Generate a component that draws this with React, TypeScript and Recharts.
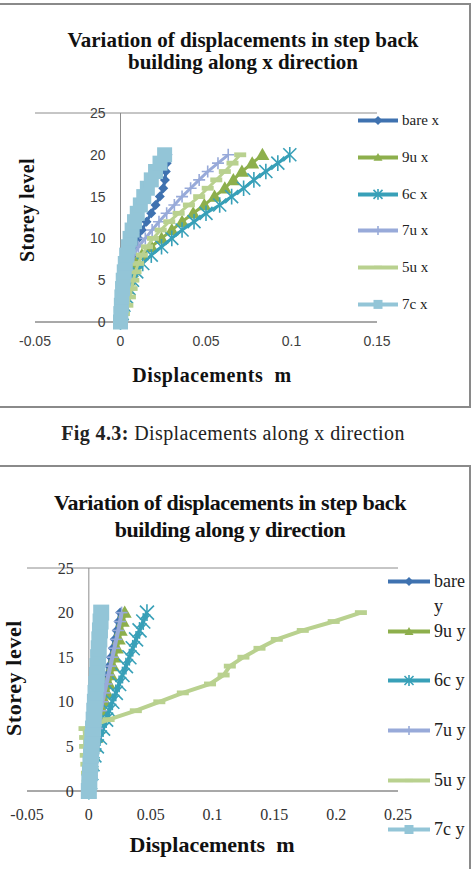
import React from 'react';
import {
  ScatterChart,
  Scatter,
  XAxis,
  YAxis,
  CartesianGrid,
  ReferenceLine,
  ReferenceDot,
  Legend,
} from 'recharts';

// ---------------- DATA ----------------
const storeyLevels = [0, 1, 2, 3, 4, 5, 6, 7, 8, 9, 10, 11, 12, 13, 14, 15, 16, 17, 18, 19, 20];

// Chart 1: displacements along x direction (m)
const bareX = [0, 0.0005, 0.001, 0.0017, 0.0025, 0.0035, 0.0046, 0.0058, 0.0072, 0.0088, 0.0105, 0.0125, 0.0152, 0.018, 0.0205, 0.023, 0.025, 0.026, 0.0265, 0.027, 0.0275];
const u9X = [0, 0.0006, 0.0014, 0.0024, 0.0036, 0.005, 0.0067, 0.0088, 0.0125, 0.018, 0.024, 0.03, 0.036, 0.0425, 0.049, 0.055, 0.061, 0.066, 0.071, 0.077, 0.083];
const c6X = [0, 0.001, 0.002, 0.0035, 0.005, 0.007, 0.0095, 0.013, 0.018, 0.024, 0.03, 0.036, 0.043, 0.05, 0.058, 0.065, 0.072, 0.078, 0.085, 0.092, 0.099];
const u7X = [0, 0.0005, 0.001, 0.0018, 0.0027, 0.0037, 0.0048, 0.006, 0.0078, 0.0105, 0.0145, 0.0185, 0.0225, 0.027, 0.0315, 0.036, 0.041, 0.046, 0.051, 0.057, 0.063];
const u5X = [0, 0.002, 0.004, 0.0055, 0.0065, 0.0075, 0.0088, 0.0103, 0.0125, 0.0155, 0.019, 0.0235, 0.0285, 0.034, 0.04, 0.046, 0.051, 0.056, 0.061, 0.0655, 0.07];
const c7X = [0, 0.0002, 0.0005, 0.0008, 0.0012, 0.0016, 0.0022, 0.0028, 0.0036, 0.0045, 0.0056, 0.0068, 0.0082, 0.0098, 0.0116, 0.0136, 0.0157, 0.018, 0.0205, 0.0231, 0.0258];

// Chart 2: displacements along y direction (m)
const bareY = [0, 0.0005, 0.0011, 0.0018, 0.0026, 0.0035, 0.0046, 0.0059, 0.0072, 0.0086, 0.0101, 0.0116, 0.0132, 0.0147, 0.0163, 0.0178, 0.0194, 0.0209, 0.0225, 0.024, 0.0254];
const u9Y = [0, 0.0007, 0.0015, 0.0025, 0.0035, 0.0048, 0.0062, 0.0078, 0.0095, 0.0112, 0.013, 0.0146, 0.0162, 0.0178, 0.0194, 0.021, 0.0226, 0.0242, 0.0258, 0.0274, 0.029];
const c6Y = [0, 0.001, 0.002, 0.003, 0.0045, 0.0065, 0.009, 0.0115, 0.014, 0.0165, 0.019, 0.0218, 0.0245, 0.0272, 0.03, 0.0328, 0.0355, 0.0382, 0.041, 0.044, 0.047];
const u7Y = [0, 0.0006, 0.0013, 0.0021, 0.003, 0.004, 0.0052, 0.0066, 0.008, 0.0095, 0.011, 0.0126, 0.0142, 0.0158, 0.0174, 0.019, 0.0206, 0.0222, 0.0238, 0.0252, 0.0265];
const u5Y = [0, -0.001, -0.0015, -0.002, -0.0025, -0.003, -0.003, -0.0035, 0.016, 0.038, 0.057, 0.076, 0.098, 0.109, 0.114, 0.125, 0.138, 0.152, 0.173, 0.198, 0.22];
const c7Y = [0, 0.0004, 0.0009, 0.0013, 0.0018, 0.0023, 0.0028, 0.0034, 0.0039, 0.0044, 0.0049, 0.0054, 0.006, 0.0065, 0.007, 0.0075, 0.008, 0.0085, 0.009, 0.0095, 0.01];

const seriesNamesX = ['bare x', '9u x', '6c x', '7u x', '5u x', '7c x'];
const seriesNamesY = ['bare y', '9u y', '6c y', '7u y', '5u y', '7c y'];

const yTicks = [0, 5, 10, 15, 20, 25];
const xTicks1 = [-0.05, 0, 0.05, 0.1, 0.15];
const xTicks2 = [-0.05, 0, 0.05, 0.1, 0.15, 0.2, 0.25];

const title1 = 'Variation of displacements in step back building along x direction';
const title2 = 'Variation of displacements in step back building along y direction';
const xTitle = 'Displacements  m';
const yTitle = 'Storey level';
const captionBold = 'Fig 4.3:';
const captionRest = ' Displacements along x direction';

// ---------------- STYLE ----------------
const COLORS = ['#3F72B0', '#8DAF4C', '#38A0B8', '#98AAD9', '#B9D18F', '#93C5D7'];
type Kind = 'diamond' | 'triangle' | 'star' | 'plus' | 'dash' | 'square';
const KINDS: Kind[] = ['diamond', 'triangle', 'star', 'plus', 'dash', 'square'];
const GRID = '#8c8c8c';
const SERIF = '"Liberation Serif", "Times New Roman", serif';
const SANS = '"Liberation Sans", Arial, sans-serif';

function Marker({ kind, cx, cy, color, s }: { kind: Kind; cx: number; cy: number; color: string; s: number }) {
  if (cx == null || cy == null || isNaN(cx) || isNaN(cy)) return null;
  switch (kind) {
    case 'diamond':
      return <polygon points={`${cx},${cy - s} ${cx + s},${cy} ${cx},${cy + s} ${cx - s},${cy}`} fill={color} />;
    case 'triangle':
      return <polygon points={`${cx},${cy - s} ${cx + s},${cy + s * 0.75} ${cx - s},${cy + s * 0.75}`} fill={color} />;
    case 'square':
      return <rect x={cx - s} y={cy - s} width={2 * s} height={2 * s} fill={color} />;
    case 'dash':
      return <rect x={cx - s} y={cy - s * 0.4} width={2 * s} height={s * 0.8} fill={color} />;
    case 'plus':
      return (
        <g stroke={color} strokeWidth={1.6}>
          <line x1={cx - s} y1={cy} x2={cx + s} y2={cy} />
          <line x1={cx} y1={cy - s} x2={cx} y2={cy + s} />
        </g>
      );
    case 'star':
      return (
        <g stroke={color} strokeWidth={1.6}>
          <line x1={cx - s} y1={cy - s} x2={cx + s} y2={cy + s} />
          <line x1={cx - s} y1={cy + s} x2={cx + s} y2={cy - s} />
          <line x1={cx} y1={cy - s * 1.2} x2={cx} y2={cy + s * 1.2} />
        </g>
      );
  }
  return null;
}

interface SeriesCfg {
  name: string;
  values: number[];
  color: string;
  kind: Kind;
}

const series1: SeriesCfg[] = [bareX, u9X, c6X, u7X, u5X, c7X].map((values, i) => ({
  name: seriesNamesX[i],
  values,
  color: COLORS[i],
  kind: KINDS[i],
}));
const series2: SeriesCfg[] = [bareY, u9Y, c6Y, u7Y, u5Y, c7Y].map((values, i) => ({
  name: seriesNamesY[i],
  values,
  color: COLORS[i],
  kind: KINDS[i],
}));

const markerSize1: Record<Kind, number> = { diamond: 5, triangle: 7, star: 6.5, plus: 6, dash: 6, square: 7.5 };
const markerSize2: Record<Kind, number> = { diamond: 5, triangle: 7, star: 7, plus: 6, dash: 6, square: 8 };

function LegendList({
  items,
  rowH,
  svgW,
  fontSize,
  textW,
  lineH,
  topPad,
}: {
  items: SeriesCfg[];
  rowH: number;
  svgW: number;
  fontSize: number;
  textW: number;
  lineH: number;
  topPad: number;
}) {
  return (
    <div>
      {items.map((it) => (
        <div
          key={it.name}
          style={{ display: 'flex', alignItems: 'flex-start', height: rowH, paddingTop: topPad, boxSizing: 'border-box' }}
        >
          <svg width={svgW} height={lineH} style={{ flex: 'none' }}>
            <line x1={2} y1={lineH / 2} x2={svgW - 2} y2={lineH / 2} stroke={it.color} strokeWidth={4} />
            <Marker kind={it.kind} cx={svgW / 2} cy={lineH / 2} color={it.color} s={it.kind === 'dash' ? 4 : 4.5} />
          </svg>
          <div
            style={{
              fontFamily: SERIF,
              fontSize,
              lineHeight: `${lineH}px`,
              color: '#222',
              width: textW,
              marginLeft: 2,
            }}
          >
            {it.name}
          </div>
        </div>
      ))}
    </div>
  );
}

function DispChart({
  series,
  width,
  height,
  margin,
  xDomain,
  xTicks,
  tickFont,
  tickSize,
  tickColor,
  tickMargin,
  yLabelOffset,
  lineWidth,
  sizes,
  legendStyle,
  legendProps,
}: any) {
  return (
    <ScatterChart width={width} height={height} margin={margin}>
      <CartesianGrid vertical={false} stroke={GRID} strokeWidth={1} />
      <XAxis
        type="number"
        dataKey="x"
        domain={xDomain}
        ticks={xTicks}
        interval={0}
        allowDataOverflow
        axisLine={{ stroke: GRID, strokeWidth: 1 }}
        tickLine={false}
        tickSize={0}
        tickMargin={tickMargin}
        height={40}
        tick={{ fontSize: tickSize, fill: tickColor, fontFamily: tickFont }}
      />
      <YAxis
        type="number"
        dataKey="y"
        domain={[0, 25]}
        ticks={yTicks}
        interval={0}
        width={0}
        axisLine={false}
        tickLine={false}
        tick={false}
      />
      <ReferenceLine x={0} stroke={GRID} strokeWidth={1} />
      {yTicks.map((v) => (
        <ReferenceDot
          key={`yl${v}`}
          x={0}
          y={v}
          r={0}
          fill="none"
          stroke="none"
          label={{
            value: String(v),
            position: 'left',
            offset: yLabelOffset,
            fontSize: tickSize,
            fill: tickColor,
            fontFamily: tickFont,
          }}
        />
      ))}
      {series.map((s: SeriesCfg) => (
        <Scatter
          key={s.name}
          name={s.name}
          data={storeyLevels.map((lv, i) => ({ x: s.values[i], y: lv }))}
          fill={s.color}
          line={{ stroke: s.color, strokeWidth: lineWidth }}
          lineType="joint"
          isAnimationActive={false}
          shape={(p: any) => <Marker kind={s.kind} cx={p.cx} cy={p.cy} color={s.color} s={sizes[s.kind]} />}
        />
      ))}
      <Legend
        layout="vertical"
        align="center"
        verticalAlign="middle"
        wrapperStyle={legendStyle}
        content={() => <LegendList items={series} {...legendProps} />}
      />
    </ScatterChart>
  );
}

const abs = (s: React.CSSProperties): React.CSSProperties => ({ position: 'absolute', ...s });

export default function App() {
  return (
    <div style={abs({ left: 0, top: 0, width: 475, height: 869, background: '#fff', overflow: 'hidden' })}>
      {/* Chart 1 frame */}
      <div style={abs({ left: -3, top: 3, width: 474, height: 405, border: '2px solid #8a8a8a', boxSizing: 'border-box' })} />
      <div
        style={abs({
          left: 43,
          top: 29,
          width: 400,
          textAlign: 'center',
          fontFamily: SERIF,
          fontWeight: 'bold',
          fontSize: 21,
          lineHeight: '22px',
          color: '#111',
        })}
      >
        {title1}
      </div>
      <div style={abs({ left: 0, top: 0 })}>
        <DispChart
          series={series1}
          width={475}
          height={410}
          margin={{ top: 113, right: 98, bottom: 48, left: 35 }}
          xDomain={[-0.05, 0.15]}
          xTicks={xTicks1}
          tickFont={SANS}
          tickSize={14}
          tickColor="#404040"
          tickMargin={14}
          yLabelOffset={15}
          lineWidth={3}
          sizes={markerSize1}
          legendStyle={{ position: 'absolute', left: 356, top: 102, width: 119, height: 222 }}
          legendProps={{ rowH: 36.8, svgW: 44, fontSize: 15, textW: 70, lineH: 36.8, topPad: 0 }}
        />
      </div>
      <div
        style={abs({
          left: 62,
          top: 362,
          width: 300,
          textAlign: 'center',
          fontFamily: SERIF,
          fontWeight: 'bold',
          fontSize: 20,
          lineHeight: '26px',
          letterSpacing: 0.6,
          whiteSpace: 'pre',
          color: '#111',
        })}
      >
        {xTitle}
      </div>
      <div
        style={abs({
          left: 27 - 70,
          top: 210 - 13,
          width: 140,
          height: 26,
          lineHeight: '26px',
          textAlign: 'center',
          transform: 'rotate(-90deg)',
          fontFamily: SERIF,
          fontWeight: 'bold',
          fontSize: 20,
          letterSpacing: 0.4,
          color: '#111',
        })}
      >
        {yTitle}
      </div>

      {/* Caption */}
      <div
        style={abs({
          left: 0,
          top: 420,
          width: 466,
          textAlign: 'center',
          fontFamily: SERIF,
          fontSize: 20,
          lineHeight: '26px',
          letterSpacing: 0.4,
          color: '#222',
          whiteSpace: 'pre',
        })}
      >
        <b>{captionBold}</b>
        {captionRest}
      </div>

      {/* Chart 2 frame */}
      <div style={abs({ left: -3, top: 465, width: 474, height: 500, border: '2px solid #8a8a8a', boxSizing: 'border-box' })} />
      <div
        style={abs({
          left: 30,
          top: 489,
          width: 400,
          textAlign: 'center',
          fontFamily: SERIF,
          fontWeight: 'bold',
          fontSize: 22,
          lineHeight: '27px',
          letterSpacing: -0.4,
          color: '#111',
        })}
      >
        {title2}
      </div>
      <div style={abs({ left: 0, top: 460 })}>
        <DispChart
          series={series2}
          width={475}
          height={409}
          margin={{ top: 108, right: 77, bottom: 38, left: 27 }}
          xDomain={[-0.05, 0.25]}
          xTicks={xTicks2}
          tickFont={SERIF}
          tickSize={16}
          tickColor="#333"
          tickMargin={18}
          yLabelOffset={15}
          lineWidth={4}
          sizes={markerSize2}
          legendStyle={{ position: 'absolute', left: 386, top: 97, width: 89, height: 300 }}
          legendProps={{ rowH: 49.6, svgW: 46, fontSize: 18, textW: 42, lineH: 25, topPad: 12.3 }}
        />
      </div>
      <div
        style={abs({
          left: 62,
          top: 831,
          width: 300,
          textAlign: 'center',
          fontFamily: SERIF,
          fontWeight: 'bold',
          fontSize: 22,
          lineHeight: '28px',
          whiteSpace: 'pre',
          color: '#111',
        })}
      >
        {xTitle}
      </div>
      <div
        style={abs({
          left: 14 - 70,
          top: 678 - 14,
          width: 140,
          height: 28,
          lineHeight: '28px',
          textAlign: 'center',
          transform: 'rotate(-90deg)',
          fontFamily: SERIF,
          fontWeight: 'bold',
          fontSize: 22,
          letterSpacing: 0.6,
          color: '#111',
        })}
      >
        {yTitle}
      </div>
    </div>
  );
}
